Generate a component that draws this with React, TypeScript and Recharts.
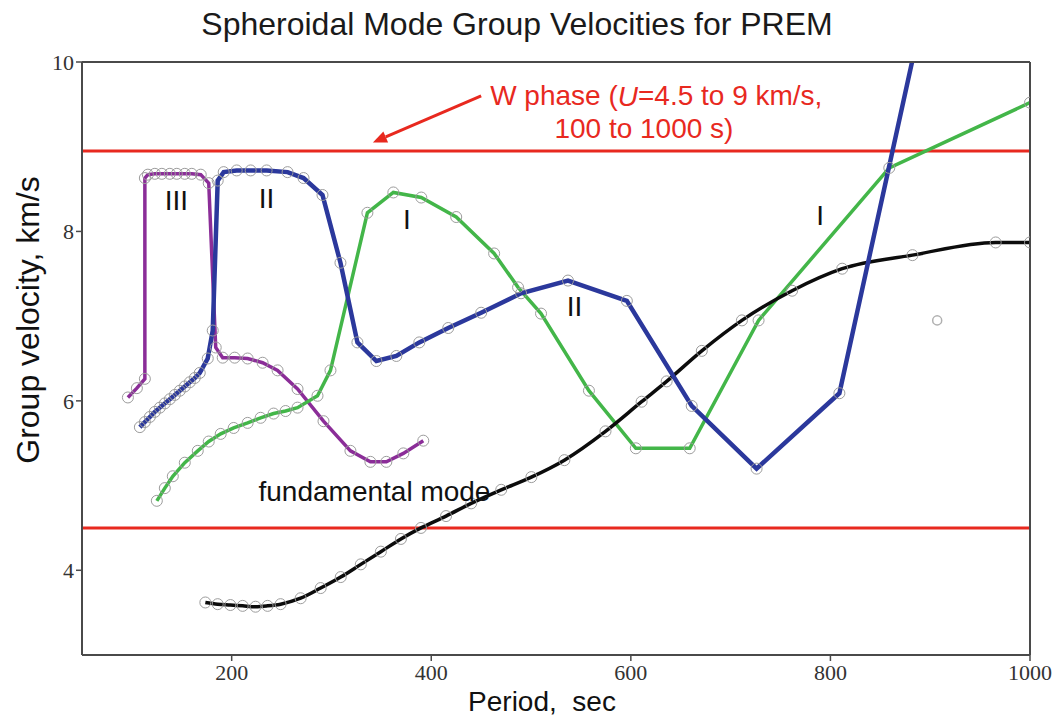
import React from 'react';
import {
  ComposedChart,
  Line,
  XAxis,
  YAxis,
  ReferenceLine,
  ReferenceDot,
  Scatter,
} from 'recharts';

// ---------- data (period in s, group velocity in km/s) ----------
const periodTicks = [200, 400, 600, 800, 1000];
const velocityTicks = [4, 6, 8, 10];

const fundamentalT = [173.6, 186, 198.7, 211, 223.9, 236, 249, 269.1, 289.2, 309.3, 329.4, 349.5, 369.6, 389.7, 414.8, 440, 470.1, 500.3, 533.4, 574.6, 610.8, 635.9, 671.1, 711.3, 761.6, 811.8, 882.2, 965.6, 1000];
const fundamentalU = [3.62, 3.6, 3.59, 3.58, 3.57, 3.58, 3.6, 3.67, 3.79, 3.92, 4.07, 4.22, 4.37, 4.5, 4.64, 4.79, 4.95, 5.1, 5.3, 5.64, 5.99, 6.23, 6.59, 6.95, 7.3, 7.56, 7.72, 7.87, 7.87];

const overtone1T = [125, 133, 141, 153, 166, 177, 189, 202, 216, 229, 242, 254, 266, 286, 299, 336, 362, 390, 425, 463, 487, 510, 558, 605, 659, 728, 859, 1000];
const overtone1U = [4.82, 4.97, 5.11, 5.27, 5.41, 5.52, 5.61, 5.68, 5.74, 5.8, 5.85, 5.88, 5.92, 6.06, 6.36, 8.22, 8.46, 8.4, 8.17, 7.74, 7.34, 7.03, 6.12, 5.44, 5.44, 6.95, 8.75, 9.52];

const overtone2T = [108, 113, 118, 123, 128, 133, 138, 143, 148, 153, 158, 163, 168, 176, 181, 186, 192, 205, 219, 235, 256, 272, 291, 309, 326, 345, 365, 388, 417, 450, 490, 537, 596, 661, 726, 809, 885.5];
const overtone2U = [5.69, 5.75, 5.81, 5.87, 5.92, 5.97, 6.02, 6.07, 6.12, 6.17, 6.22, 6.27, 6.33, 6.5, 6.83, 8.6, 8.7, 8.72, 8.72, 8.72, 8.7, 8.63, 8.43, 7.63, 6.69, 6.47, 6.53, 6.69, 6.86, 7.04, 7.27, 7.42, 7.18, 5.94, 5.2, 6.09, 10.2];

const overtone3T = [96, 105, 113, 113, 116, 123, 130, 138, 145, 153, 160, 169, 177, 184, 191, 203, 216, 231, 246, 266, 292, 319, 339, 355, 372, 392];
const overtone3U = [6.04, 6.15, 6.26, 8.63, 8.67, 8.68, 8.68, 8.68, 8.68, 8.68, 8.68, 8.67, 8.57, 6.63, 6.51, 6.51, 6.5, 6.45, 6.36, 6.14, 5.76, 5.41, 5.28, 5.28, 5.38, 5.53];

const strayT = [907];
const strayU = [6.95];

const wPhaseBand = [4.5, 8.95];

const branchLabels = ['III', 'II', 'I', 'II', 'I'];
const branchLabelT = [144.5, 235, 375.6, 543.5, 789.7];
const branchLabelU = [8.37, 8.39, 8.15, 7.12, 8.19];

const arrowFrom = { t: 450, u: 9.6 };
const arrowTo = { t: 341.5, u: 9.05 };

const toPoints = (t: number[], u: number[]) => t.map((x, i) => ({ t: x, u: u[i] }));

const fundamental = toPoints(fundamentalT, fundamentalU);
const overtone1 = toPoints(overtone1T, overtone1U);
const overtone2 = toPoints(overtone2T, overtone2U);
const overtone3 = toPoints(overtone3T, overtone3U);
const stray = toPoints(strayT, strayU);

const SANS = '"Liberation Sans", Arial, Helvetica, sans-serif';
const SERIF = '"Liberation Serif", "Times New Roman", serif';
const RED = '#e8291f';
const AXIS = '#4a4a4a';

const dotStyle = { r: 5.5, stroke: '#9c9c9c', strokeWidth: 1, fill: 'none' };

const Arrow = (props: any) => {
  const { x1, y1, x2, y2 } = props;
  const ang = Math.atan2(y2 - y1, x2 - x1);
  const len = 14;
  const w = 6;
  const bx = x2 - len * Math.cos(ang);
  const by = y2 - len * Math.sin(ang);
  const px = -Math.sin(ang) * w;
  const py = Math.cos(ang) * w;
  return (
    <g>
      <line x1={x1} y1={y1} x2={bx} y2={by} stroke={RED} strokeWidth={3} />
      <polygon points={`${x2},${y2} ${bx + px},${by + py} ${bx - px},${by - py}`} fill={RED} />
    </g>
  );
};

const WPhaseText = (props: any) => {
  const vb = props.viewBox || {};
  return (
    <text x={vb.x} y={vb.y} fill={RED} fontFamily={SANS} fontSize={28} dominantBaseline="central" style={{ whiteSpace: 'pre' }}>
      W phase (<tspan fontStyle="italic">U</tspan>=4.5 to 9 km/s,
    </text>
  );
};

const WPhaseText2 = (props: any) => {
  const vb = props.viewBox || {};
  return (
    <text x={vb.x} y={vb.y} fill={RED} fontFamily={SANS} fontSize={28} dominantBaseline="central">
      100 to 1000 s)
    </text>
  );
};

const FundText = (props: any) => {
  const vb = props.viewBox || {};
  return (
    <text x={vb.x} y={vb.y} fill="#111" fontFamily={SANS} fontSize={28} dominantBaseline="central">
      fundamental mode
    </text>
  );
};

const YTitle = (props: any) => {
  const vb = props.viewBox || {};
  const cx = vb.x + 16;
  const cy = 320;
  return (
    <text x={cx} y={cy} transform={`rotate(-90 ${cx} ${cy})`} textAnchor="middle" dominantBaseline="central" fill="#111" fontFamily={SANS} fontSize={32}>
      Group velocity, km/s
    </text>
  );
};

const XTitle = (props: any) => {
  const vb = props.viewBox || {};
  return (
    <text x={542} y={vb.y + 56} textAnchor="middle" fill="#111" fontFamily={SANS} fontSize={28} style={{ whiteSpace: 'pre' }}>
      {'Period,  sec'}
    </text>
  );
};

export default function App() {
  return (
    <div style={{ position: 'absolute', left: 0, top: 0, width: 1055, height: 719, background: '#fff' }}>
      <div
        style={{
          position: 'absolute',
          left: 0,
          top: 5,
          width: 1034,
          textAlign: 'center',
          fontFamily: SANS,
          fontSize: 32,
          color: '#1a1a1a',
          lineHeight: '38px',
        }}
      >
        Spheroidal Mode Group Velocities for PREM
      </div>
      <ComposedChart
        width={1055}
        height={719}
        margin={{ top: 52, right: 15, bottom: 24, left: 12 }}
        style={{ position: 'absolute', left: 0, top: 0 }}
      >
        <XAxis
          xAxisId="bottom"
          type="number"
          dataKey="t"
          domain={[50, 1000]}
          ticks={periodTicks}
          allowDataOverflow
          height={40}
          stroke={AXIS}
          strokeWidth={2}
          tickSize={6}
          tickMargin={3}
          tick={{ fill: '#333', fontFamily: SERIF, fontSize: 22 }}
          tickLine={{ stroke: AXIS, strokeWidth: 1.5 }}
          label={<XTitle />}
        />
        <XAxis
          xAxisId="top"
          orientation="top"
          type="number"
          dataKey="t"
          domain={[50, 1000]}
          ticks={periodTicks}
          allowDataOverflow
          height={10}
          stroke={AXIS}
          strokeWidth={2}
          tickSize={6}
          tick={false}
          tickLine={{ stroke: AXIS, strokeWidth: 1.5 }}
        />
        <YAxis
          yAxisId="left"
          type="number"
          dataKey="u"
          domain={[3, 10]}
          ticks={velocityTicks}
          allowDataOverflow
          width={70}
          stroke={AXIS}
          strokeWidth={2}
          tickSize={6}
          tickMargin={2}
          tick={{ fill: '#333', fontFamily: SERIF, fontSize: 22 }}
          tickLine={{ stroke: AXIS, strokeWidth: 1.5 }}
          label={<YTitle />}
        />
        <YAxis
          yAxisId="right"
          orientation="right"
          type="number"
          dataKey="u"
          domain={[3, 10]}
          ticks={velocityTicks}
          allowDataOverflow
          width={10}
          stroke={AXIS}
          strokeWidth={2}
          tickSize={6}
          tick={false}
          tickLine={{ stroke: AXIS, strokeWidth: 1.5 }}
        />

        {wPhaseBand.map((v) => (
          <ReferenceLine key={v} xAxisId="bottom" yAxisId="left" y={v} stroke={RED} strokeWidth={3} />
        ))}

        <Line xAxisId="bottom" yAxisId="left" data={overtone3} dataKey="u" type="linear" stroke="#8b2d98" strokeWidth={3.5} dot={dotStyle} isAnimationActive={false} />
        <Line xAxisId="bottom" yAxisId="left" data={overtone1} dataKey="u" type="linear" stroke="#43b649" strokeWidth={3.5} dot={dotStyle} isAnimationActive={false} />
        <Line xAxisId="bottom" yAxisId="left" data={fundamental} dataKey="u" type="monotone" stroke="#0c0c0c" strokeWidth={3.5} dot={dotStyle} isAnimationActive={false} />
        <Line xAxisId="bottom" yAxisId="left" data={overtone2} dataKey="u" type="linear" stroke="#2b389c" strokeWidth={4.5} dot={dotStyle} isAnimationActive={false} />
        <Scatter xAxisId="bottom" yAxisId="left" data={stray} dataKey="u" fill="none" stroke="#b0b0b0" strokeWidth={1.5} shape="circle" isAnimationActive={false} />

        <ReferenceLine
          xAxisId="bottom"
          yAxisId="left"
          segment={[
            { x: arrowFrom.t, y: arrowFrom.u },
            { x: arrowTo.t, y: arrowTo.u },
          ]}
          shape={<Arrow />}
        />

        {branchLabels.map((lab, i) => (
          <ReferenceDot
            key={i}
            xAxisId="bottom"
            yAxisId="left"
            x={branchLabelT[i]}
            y={branchLabelU[i]}
            r={0}
            fill="none"
            stroke="none"
            label={{ value: lab, position: 'center', fill: '#111', fontSize: 28, fontFamily: SANS }}
          />
        ))}
        <ReferenceDot xAxisId="bottom" yAxisId="left" x={459} y={9.6} r={0} fill="none" stroke="none" label={<WPhaseText />} />
        <ReferenceDot xAxisId="bottom" yAxisId="left" x={523.4} y={9.22} r={0} fill="none" stroke="none" label={<WPhaseText2 />} />
        <ReferenceDot xAxisId="bottom" yAxisId="left" x={226.9} y={4.93} r={0} fill="none" stroke="none" label={<FundText />} />
      </ComposedChart>
    </div>
  );
}
